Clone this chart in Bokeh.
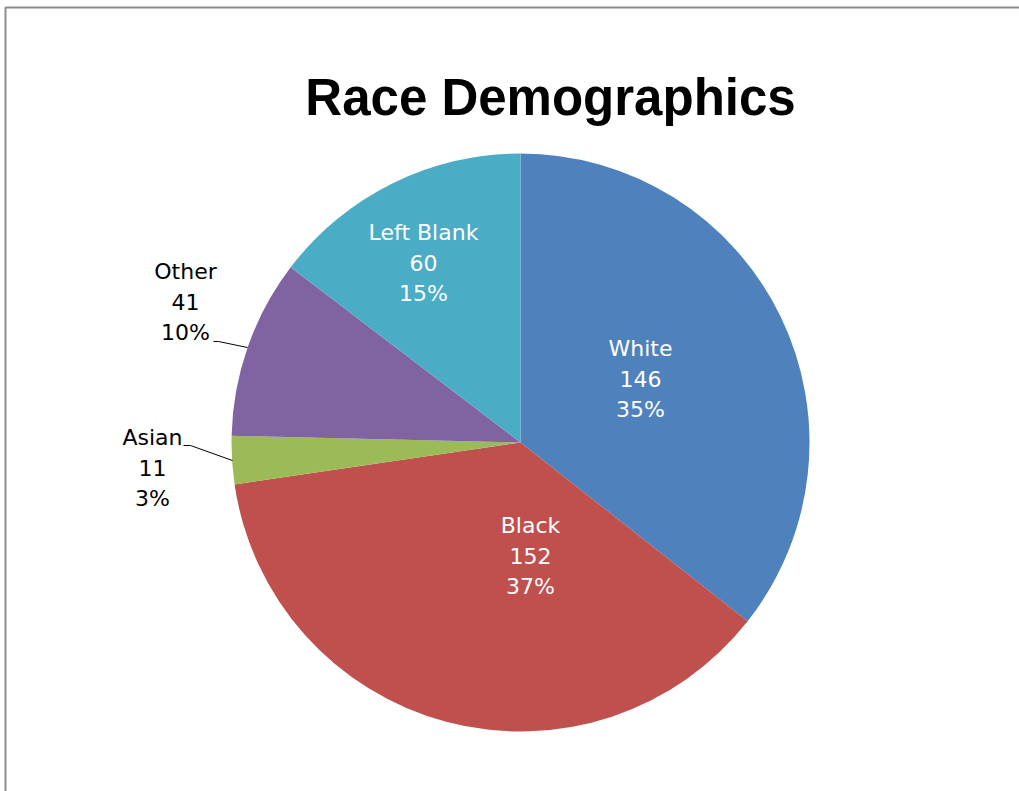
import math
from bokeh.plotting import figure
from bokeh.models import Range1d, ColumnDataSource
from bokeh.core.properties import value
from bokeh.embed import file_html
from bokeh.resources import INLINE

# ---- data ----
categories = ["White", "Black", "Asian", "Other", "Left Blank"]
counts = [146, 152, 11, 41, 60]
pct_labels = ["35%", "37%", "3%", "10%", "15%"]
colors = ["#4F81BD", "#C0504D", "#9BBB59", "#8064A2", "#4BACC6"]
title_text = "Race Demographics"

# ---- layout ----
W, H = 1019, 791
CX, CY = 520, H - 442   # pie centre (y up)
R = 289

# label anchors (offset from centre in px, y up), text colour, and leader lines
label_pos = [(120, 64), (10, -113), (-368, -25), (-335, 141), (-97, 180)]
label_col = ["white", "white", "#000000", "#000000", "white"]
leaders = {
    2: [(-337, -3), (-330, -3), (-288, -18)],
    3: [(-307, 101), (-302, 101), (-273, 95)],
}

p = figure(width=W, height=H, output_backend="svg", toolbar_location=None,
           x_range=Range1d(0, W), y_range=Range1d(0, H),
           min_border=0, match_aspect=False)
p.axis.visible = False
p.grid.visible = False
p.outline_line_color = None
p.background_fill_color = "white"
p.border_fill_color = "white"

total = sum(counts)
starts, ends = [], []
acc = 0.0
for c in counts:
    starts.append(math.pi / 2 - 2 * math.pi * acc / total)
    acc += c
    ends.append(math.pi / 2 - 2 * math.pi * acc / total)

src = ColumnDataSource(dict(start=starts, end=ends, color=colors, cat=categories))
p.wedge(x=CX, y=CY, radius=R, start_angle="start", end_angle="end",
        direction="clock", fill_color="color", line_color=None, source=src)

# border (left & top)
p.line(x=[5, 5, W], y=[0, H - 7, H - 7], line_color="#8c8c8c", line_width=2)

# title
p.text(x=[550], y=[H - 97], text=[title_text], text_font=value("Liberation Sans"),
       text_font_style="bold", text_font_size="51px", text_align="center",
       text_baseline="middle", text_color="black")

# labels
LS = 30.5
for i, cat in enumerate(categories):
    dx, dy = label_pos[i]
    lx, ly = CX + dx, CY + dy
    lines = [cat, str(counts[i]), pct_labels[i]]
    p.text(x=[lx] * 3, y=[ly + LS, ly, ly - LS], text=lines,
           text_font=value("DejaVu Sans"), text_font_size="22px",
           text_align="center", text_baseline="middle", text_color=label_col[i])

for i, pts in leaders.items():
    p.line(x=[CX + a for a, b in pts], y=[CY + b for a, b in pts],
           line_color="black", line_width=1)

open("out.html", "w").write(file_html(p, INLINE))
